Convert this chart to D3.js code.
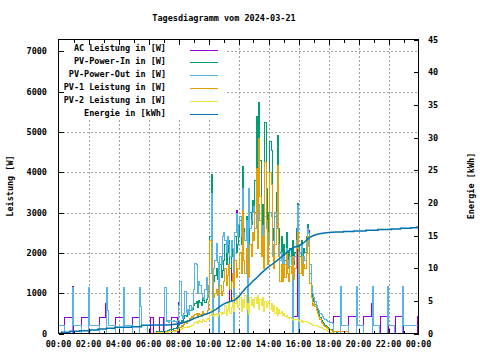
<!DOCTYPE html>
<html><head><meta charset="utf-8">
<script src="https://cdn.jsdelivr.net/npm/d3@7"></script>
<style>
body{margin:0;background:#fff}
text{font-family:"DejaVu Sans Mono",monospace;font-size:8.5px;fill:#000;font-weight:bold}
</style>
</head><body>
<svg id="c" width="480" height="360"></svg>
<script>
const titleText = "Tagesdiagramm vom 2024-03-21";
const yLeftLabel = "Leistung [W]";
const yRightLabel = "Energie [kWh]";
const xTickHours = [0,2,4,6,8,10,12,14,16,18,20,22,24];
const xTickLabels = ["00:00","02:00","04:00","06:00","08:00","10:00","12:00","14:00","16:00","18:00","20:00","22:00","00:00"];
const yLeftTicks = [0,1000,2000,3000,4000,5000,6000,7000];
const yRightTicks = [0,5,10,15,20,25,30,35,40,45];
const seriesNames = ["AC Leistung in [W]","PV-Power-In in [W]","PV-Power-Out in [W]","PV-1 Leistung in [W]","PV-2 Leistung in [W]","Energie in [kWh]"];
const seriesColors = ["#9400d3","#009e73","#56b4e9","#e69f00","#f0e442","#0072b2"];

// daytime samples: every 5 minutes from 07:00 to 18:30
const dayStartHour = 7, dayStepMin = 5;

// ---- AC Leistung [W]
const acAmT = [0,0.4,0.95,1.017,1.5,2.0,2.7,3.13,3.2,3.8,4.35,4.9,5.4,6.1,6.3,6.7];
const acAmV = [0,400,1170,0,400,0,400,750,0,400,0,400,0,400,0,400];
const acDay = [
 0,0,0,0,0,0,400,400,400,400,400,0,
 780,1280,450,380,500,1030,520,600,480,700,560,650,
 1100,1745,1700,1000,1300,1200,1000,900,850,1100,1400,900,
 1200,1500,3470,0,1600,1800,2240,1750,0,1900,1700,2400,
 2500,2300,2000,2400,2200,800,2300,2100,0,2500,3050,2400,
 2700,2900,2400,3600,2500,2300,2800,0,3600,2600,2800,3000,
 3200,2600,3300,2400,3200,2800,2200,2750,2000,2900,2600,2100,
 2500,3000,2900,2200,1900,3010,2600,3000,2200,1800,2000,1700,
 1900,1700,2100,1800,1600,1900,1700,415,415,415,415,3180,
 0,2000,2200,1700,1900,1800,2300,2600,2560,1700,1200,1000,
 900,800,700,630,560,500,460,420,380,340,310,300,
 290,280,270,260,415,415,415];
const acPmT = [18.583,18.8,19.35,19.85,20.35,20.85,20.93,21.45,21.97,22.45,22.97,23.95];
const acPmV = [415,0,415,0,415,750,0,415,0,415,0,415];

// ---- PV-Power-In [W]
const inAmT = [0,6.5];
const inAmV = [0,40];
const inDay = [
 50,50,60,70,80,90,100,110,120,130,140,160,
 220,280,330,300,380,450,430,520,480,560,640,600,
 700,750,800,650,820,780,700,900,820,760,850,950,
 1100,2400,3950,1500,1300,1450,1600,1350,1500,1700,1400,1550,
 1800,2200,1700,2000,2300,1600,1900,2100,1700,2400,2000,2200,
 2400,2800,2200,4150,2600,2300,2900,2500,2100,3000,2700,3300,
 3100,3800,5370,2900,5740,4300,2700,3200,2400,5240,3600,2500,
 3000,4750,4540,2600,2300,2900,3500,4900,2600,2000,2400,1900,
 2200,1800,2500,2000,1700,2100,1900,2300,1700,2000,2600,3230,
 2200,1900,2300,1800,2100,2000,2400,2700,2500,1500,1100,900,
 800,720,640,560,480,400,320,280,240,200,175,160,
 130,110,90,70,50,40,30];
const inPmT = [18.583];
const inPmV = [0];

// ---- PV-Power-Out [W]
const outAmT = [0,0.4,0.95,1.017,1.5,1.97,2.037,2.7,3.18,3.247,3.33,3.8,4.33,4.397,4.9,5.37,5.437,5.52,5.9];
const outAmV = [210,0,1150,210,0,1150,210,0,1150,580,210,0,1150,210,0,1150,660,210,0];
const outDay = [
 0,1150,300,320,280,330,300,290,310,300,280,320,
 700,1280,450,380,500,1030,520,600,480,700,560,650,
 1100,1745,1700,1000,1300,1200,1000,900,850,1100,1400,900,
 1200,1500,3470,0,1600,1800,2240,1750,0,1900,1700,2400,
 2500,2300,2000,2400,2200,1900,2300,2100,0,2500,2980,2400,
 2700,2900,2400,3600,2500,2300,2800,0,3600,2600,2800,3000,
 3140,2600,3300,2400,3200,2800,2200,2670,2000,2900,2600,2100,
 2500,3000,2900,2200,1900,3010,2600,3000,2200,1800,2000,1700,
 1900,1700,2100,1800,1600,1900,1700,0,1800,1900,2300,3180,
 0,2000,2200,1700,1900,1800,2300,2600,2490,1700,1200,1000,
 900,800,700,630,560,500,460,420,380,340,310,300,
 290,280,270,260,0,0,0];
const outPmT = [18.583,18.83,18.897,19.3,19.85,19.917,20.3,20.9,20.967,21.4,21.95,22.017,22.4,22.95,23.017];
const outPmV = [0,1160,210,0,1160,210,0,1160,210,0,1160,210,0,1160,210];

// ---- PV-1 Leistung [W]
const pv1AmT = [0,6.5];
const pv1AmV = [0,30];
const pv1Day = [
 30,30,40,40,50,50,60,60,70,70,80,90,
 120,160,200,180,220,270,250,330,300,360,420,390,
 450,470,500,390,500,480,420,550,490,460,500,570,
 800,2310,1800,1100,900,1000,1100,950,1050,1200,950,1050,
 1300,1600,1200,1450,1700,1100,1300,1500,1150,1800,1400,1600,
 1600,2000,1500,3060,1800,1500,2100,1700,1400,2200,1900,2500,
 2300,3000,4100,2100,4840,3400,1900,2400,1600,4250,2800,1700,
 2200,4000,3700,1900,1600,2200,2700,4170,1900,1300,1700,1300,
 1700,1400,2000,1500,1300,1650,1500,1900,1350,1600,2100,2500,
 1800,1500,1900,1450,1700,1600,2000,2400,2150,1250,900,700,
 740,660,580,500,420,350,280,240,200,170,150,130,
 110,90,80,60,50,40,40];
const pv1PmT = [18.583,19.3];
const pv1PmV = [40,0];

// ---- PV-2 Leistung [W]
const pv2AmT = [0,6.6];
const pv2AmV = [0,20];
const pv2Day = [
 20,20,30,30,40,40,50,50,60,60,70,80,
 90,100,110,120,140,160,160,170,160,180,210,200,
 250,280,300,260,320,300,280,350,330,300,350,380,
 350,450,600,450,420,480,500,430,470,520,480,520,
 500,700,450,600,800,500,650,900,550,750,950,650,
 700,900,550,850,650,950,600,750,500,900,700,850,
 650,900,750,950,600,850,700,900,550,800,650,750,
 800,600,750,550,700,500,650,450,600,500,550,450,
 500,420,450,400,380,400,380,350,330,350,350,340,
 330,300,320,280,300,290,300,280,270,240,220,210,
 210,200,190,180,170,160,140,130,110,100,80,60,
 40,30,20,10,0,0,0];
const pv2PmT = [18.583];
const pv2PmV = [0];

// ---- Energie [kWh]; daytime every 15 minutes from 07:00 to 18:30
const enStepMin = 15;
const enAmT = [0,0.2,0.76,1.42,2.09,2.64,3.2,3.76,4.87,5.53,6.3];
const enAmV = [0.05,0.18,0.34,0.43,0.53,0.69,0.79,0.95,1.04,1.25,1.3];
const enDay = [1.3,1.3,1.35,1.4,1.45,1.6,1.8,2.0,2.25,2.5,2.7,2.9,3.1,3.35,3.7,4.1,4.5,4.75,4.95,5.1,
 5.6,6.3,7.0,7.5,8.1,8.6,9.2,9.7,10.2,10.6,11.05,11.5,12.0,12.45,12.9,13.25,13.4,13.7,14.2,14.7,
 15.0,15.2,15.3,15.4,15.45,15.5,15.55];
const enPmT = [19.0,19.7,20.5,21.3,22.2,22.8,23.5,23.9];
const enPmV = [15.6,15.7,15.8,15.9,16.0,16.1,16.2,16.3];

function build(amT, amV, day, stepMin, pmT, pmV){
  const pts = amT.map((t,i)=>[t, amV[i]]);
  day.forEach((v,i)=>pts.push([dayStartHour + i*stepMin/60, v]));
  pmT.forEach((t,i)=>pts.push([t, pmV[i]]));
  pts.push([24, pts[pts.length-1][1]]);
  return pts;
}

const L = 58.5, R = 418.5, T = 39.5, B = 333.5;
const svg = d3.select("#c");
const x = d3.scaleLinear().domain([0,24]).range([L,R]);
const yL = d3.scaleLinear().domain([0,7290]).range([B,T]);
const yR = d3.scaleLinear().domain([0,45]).range([B,T]);

// grid
const grid = svg.append("g").attr("stroke","#a0a0a0").attr("stroke-width",1)
  .attr("stroke-dasharray","2,2").attr("shape-rendering","crispEdges");
xTickHours.filter(h=>h>0 && h<24).forEach(h=>{
  grid.append("line").attr("x1",Math.round(x(h))+0.5).attr("x2",Math.round(x(h))+0.5).attr("y1",T).attr("y2",B);
});
yLeftTicks.filter(v=>v>0).forEach(v=>{
  grid.append("line").attr("x1",L).attr("x2",R).attr("y1",Math.round(yL(v))+0.5).attr("y2",Math.round(yL(v))+0.5);
});

// legend background (opaque key)
svg.append("rect").attr("x",L+0.5).attr("y",T+0.5).attr("width",166).attr("height",80).attr("fill","#fff");

// series
svg.append("clipPath").attr("id","clip").append("rect").attr("x",L).attr("y",T).attr("width",R-L).attr("height",B-T);
const series = [
  build(acAmT,acAmV,acDay,dayStepMin,acPmT,acPmV),
  build(inAmT,inAmV,inDay,dayStepMin,inPmT,inPmV),
  build(outAmT,outAmV,outDay,dayStepMin,outPmT,outPmV),
  build(pv1AmT,pv1AmV,pv1Day,dayStepMin,pv1PmT,pv1PmV),
  build(pv2AmT,pv2AmV,pv2Day,dayStepMin,pv2PmT,pv2PmV)
];
const gS = svg.append("g").attr("clip-path","url(#clip)").attr("shape-rendering","crispEdges");
series.forEach((pts,i)=>{
  const line = d3.line().x(d=>x(d[0])).y(d=>yL(d[1])).curve(d3.curveStepAfter);
  gS.append("path").attr("d",line(pts)).attr("fill","none")
    .attr("stroke",seriesColors[i]).attr("stroke-width",1);
});
// energy: stepped at night, finely rising during the day
const enAm = enAmT.map((t,i)=>[t,enAmV[i]]).concat([[dayStartHour,enDay[0]]]);
const enDayPts = enDay.map((v,i)=>[dayStartHour + i*enStepMin/60, v]);
const enPm = [enDayPts[enDayPts.length-1]].concat(enPmT.map((t,i)=>[t,enPmV[i]])).concat([[24,enPmV[enPmV.length-1]]]);
const gE = svg.append("g").attr("clip-path","url(#clip)");
const stepLine = d3.line().x(d=>x(d[0])).y(d=>yR(d[1])).curve(d3.curveStepAfter);
const linLine = d3.line().x(d=>x(d[0])).y(d=>yR(d[1]));
[stepLine(enAm), linLine(enDayPts), stepLine(enPm)].forEach(dd=>{
  gE.append("path").attr("d",dd).attr("fill","none").attr("stroke",seriesColors[5]).attr("stroke-width",1.5);
});

// border
svg.append("rect").attr("x",L).attr("y",T).attr("width",R-L).attr("height",B-T)
  .attr("fill","none").attr("stroke","#000").attr("stroke-width",1).attr("shape-rendering","crispEdges");

// ticks
const tk = svg.append("g").attr("stroke","#000").attr("stroke-width",1).attr("shape-rendering","crispEdges");
d3.range(1,24).forEach(h=>{
  const len = h%2===0 ? 5 : 3;
  const xx = Math.round(x(h))+0.5;
  tk.append("line").attr("x1",xx).attr("x2",xx).attr("y1",B).attr("y2",B-len);
  tk.append("line").attr("x1",xx).attr("x2",xx).attr("y1",T).attr("y2",T+len);
});
yLeftTicks.forEach(v=>{
  const yy = Math.round(yL(v))+0.5;
  tk.append("line").attr("x1",L).attr("x2",L+5).attr("y1",yy).attr("y2",yy);
});
yRightTicks.forEach(v=>{
  const yy = Math.round(yR(v))+0.5;
  tk.append("line").attr("x1",R).attr("x2",R-5).attr("y1",yy).attr("y2",yy);
});

// tick labels
xTickHours.forEach((h,i)=>{
  svg.append("text").attr("x",x(h)).attr("y",347).attr("text-anchor","middle").text(xTickLabels[i]);
});
yLeftTicks.forEach(v=>{
  svg.append("text").attr("x",47).attr("y",yL(v)+3).attr("text-anchor","end").text(v);
});
yRightTicks.forEach(v=>{
  svg.append("text").attr("x",428).attr("y",yR(v)+3).attr("text-anchor","start").text(v);
});

// titles
svg.append("text").attr("x",224).attr("y",21).attr("text-anchor","middle").text(titleText);
svg.append("text").attr("transform","translate(13,186) rotate(-90)").attr("text-anchor","middle").text(yLeftLabel);
svg.append("text").attr("transform","translate(474,186) rotate(-90)").attr("text-anchor","middle").text(yRightLabel);

// legend
seriesNames.forEach((n,i)=>{
  const yy = 49.5 + i*12.95;
  svg.append("text").attr("x",166).attr("y",yy+1.5).attr("text-anchor","end").text(n);
  svg.append("line").attr("x1",190).attr("x2",218).attr("y1",Math.round(yy)+0.5).attr("y2",Math.round(yy)+0.5)
    .attr("stroke",seriesColors[i]).attr("stroke-width",1).attr("shape-rendering","crispEdges");
});
</script>
</body></html>
